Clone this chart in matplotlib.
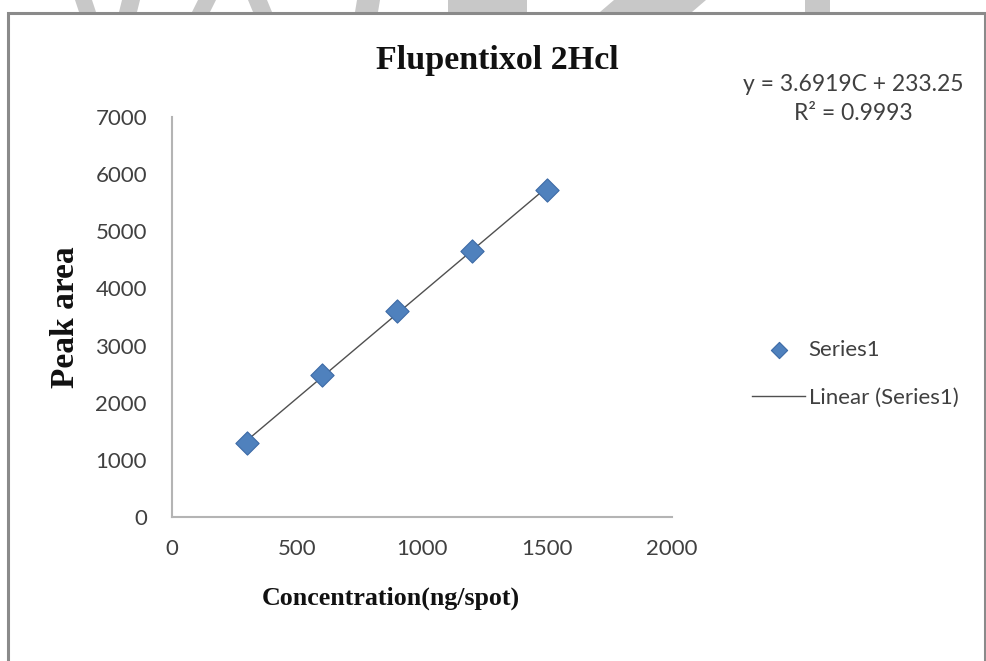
import numpy as np
import matplotlib
matplotlib.use("Agg")
import matplotlib.pyplot as plt
from matplotlib.patches import Rectangle, Polygon

# calibration data
conc = [300, 600, 900, 1200, 1500]          # ng/spot
peak_area = [1290, 2490, 3600, 4650, 5730]

# linear trendline as reported
slope = 3.6919
intercept = 233.25
r_squared = 0.9993

x_ticks = [0, 500, 1000, 1500, 2000]
y_ticks = [0, 1000, 2000, 3000, 4000, 5000, 6000, 7000]

W, H = 987, 661
fig = plt.figure(figsize=(W / 100, H / 100), dpi=100)
fig.patch.set_facecolor("white")

def fx(px):
    return px / W

def fy(py):
    return 1 - py / H

# faint grey shapes poking in above the chart frame
for x0, x1, lean in [(75, 92, 4), (122, 140, -3), (198, 216, -6), (248, 267, 5),
                     (357, 380, -2), (448, 527, 0), (614, 706, -14), (805, 830, 0)]:
    fig.patches.append(Polygon(
        [(fx(x0), fy(0)), (fx(x1), fy(0)), (fx(x1 + lean), fy(12)), (fx(x0 + lean), fy(12))],
        closed=True, transform=fig.transFigure, facecolor="#c8c8c8",
        edgecolor="none", zorder=0))

# chart frame
fig.patches.append(Rectangle((fx(8), fy(668)), fx(985) - fx(8), fy(13) - fy(668),
                             transform=fig.transFigure, facecolor="none",
                             edgecolor="#8a8a8a", linewidth=2.2, zorder=1))

ax = fig.add_axes([fx(172), fy(517), fx(672) - fx(172), (517 - 117) / H])
ax.set_facecolor("none")

ax.scatter(conc, peak_area, marker="D", s=140, color="#4f81bd",
           edgecolors="#3c6aa6", linewidths=0.8, zorder=3, label="Series1")

xfit = np.array([conc[0], conc[-1]])
ax.plot(xfit, slope * xfit + intercept, color="#505050", linewidth=1.0,
        zorder=2, label="Linear (Series1)")

ax.set_xlim(0, 2000)
ax.set_ylim(0, 7000)
ax.set_xticks(x_ticks)
ax.set_yticks(y_ticks)

tick_font = dict(family="Lato", size=16)
ax.set_xticklabels([str(v) for v in x_ticks], color="#404040", **tick_font)
ax.set_yticklabels([str(v) for v in y_ticks], color="#404040", **tick_font)
ax.tick_params(axis="both", length=0)
ax.tick_params(axis="x", pad=16)
ax.tick_params(axis="y", pad=18)

for side in ["top", "right"]:
    ax.spines[side].set_visible(False)
for side in ["left", "bottom"]:
    ax.spines[side].set_color("#b4b4b4")
    ax.spines[side].set_linewidth(1.5)

ax.set_xlabel("Concentration(ng/spot)", family="Liberation Serif",
              weight="bold", size=18.7, color="#111111")
ax.xaxis.set_label_coords((391 - 172) / 500, (517 - 598) / 400)
ax.xaxis.label.set_va("center")

ax.set_ylabel("Peak area", family="Liberation Serif", weight="bold",
              size=24, color="#111111")
ax.yaxis.set_label_coords((65 - 172) / 500, (517 - 317) / 400)
ax.yaxis.label.set_va("center")

fig.text(fx(497), fy(61), "Flupentixol 2Hcl", family="Liberation Serif",
         weight="bold", size=24.5, color="#111111", ha="center", va="center")

fig.text(fx(853), fy(99),
         f"y = {slope}C + {intercept}\nR\u00b2 = {r_squared}",
         family="Lato", size=16.5, color="#404040", ha="center", va="center",
         multialignment="center", linespacing=1.5)

ax.legend(loc="upper left", bbox_to_anchor=(fx(752), fy(340)),
          bbox_transform=fig.transFigure, frameon=False, borderpad=0,
          borderaxespad=0, handlelength=2.4, handletextpad=0.15,
          labelspacing=1.25, markerscale=0.7,
          prop=dict(family="Lato", size=16), labelcolor="#404040")

fig.savefig("out.png", dpi=100)
